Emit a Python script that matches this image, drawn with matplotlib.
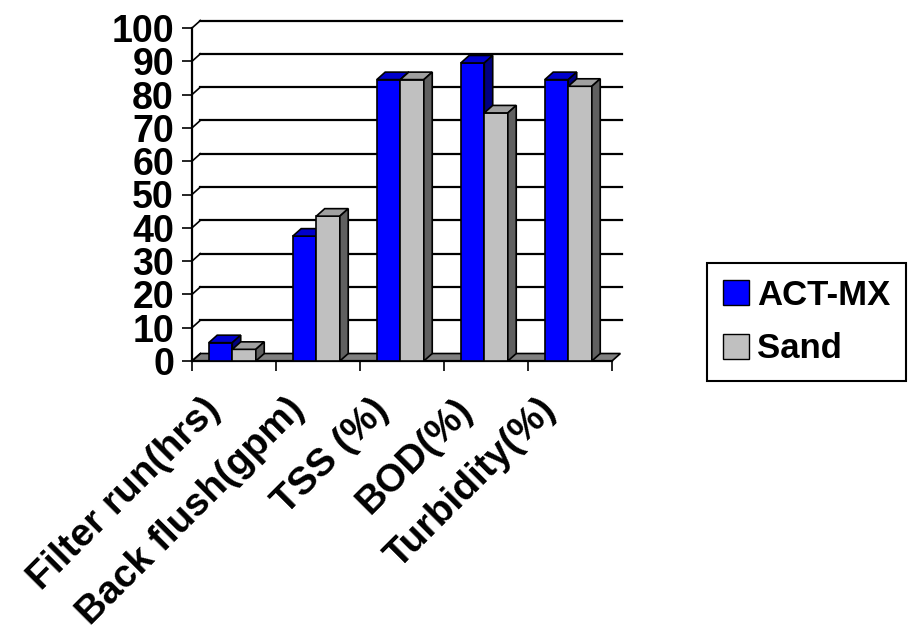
import numpy as np
import matplotlib.pyplot as plt
from matplotlib.patches import Polygon, Patch

categories = ["Filter run(hrs)", "Back flush(gpm)", "TSS (%)", "BOD(%)", "Turbidity(%)"]
act_mx = [5.5, 37.5, 84.5, 89.5, 84.5]
sand = [3.5, 43.5, 84.5, 74.5, 82.5]
yticks = np.arange(0, 101, 10)

plt.rcParams['font.family'] = ['Liberation Sans', 'DejaVu Sans']
plt.rcParams['font.weight'] = 'bold'

fig = plt.figure(figsize=(9.18, 6.37), dpi=100)
ax = fig.add_axes([192 / 918, 1 - 361 / 637, 420 / 918, 333 / 637])
n = len(categories)
ax.set_xlim(0, n)
ax.set_ylim(0, 100)

# depth of the fake 3d look, in data units
dx, dy = 0.1, 2.25

# floor
ax.add_patch(Polygon([(0, 0), (n, 0), (n + dx, dy), (dx, dy)], closed=True,
                     fc='#808080', ec='black', lw=1.2, clip_on=False, zorder=1))

# back wall gridlines and side wall diagonals
for y in yticks[1:]:
    ax.plot([dx, n + dx * 1.2], [y + dy, y + dy], color='black', lw=1.6, clip_on=False, zorder=1)
for y in yticks:
    ax.plot([0, dx], [y, y + dy], color='black', lw=1.2, clip_on=False, zorder=1)


def bar3d(x, h, w, front, top, side):
    b = ax.bar(x, h, w, align='edge', color=front, edgecolor='black', lw=1.2, zorder=3)
    r = b[0]
    x0, x1, y1 = r.get_x(), r.get_x() + r.get_width(), r.get_height()
    ax.add_patch(Polygon([(x0, y1), (x1, y1), (x1 + dx, y1 + dy), (x0 + dx, y1 + dy)],
                         fc=top, ec='black', lw=1.2, zorder=3, clip_on=False))
    ax.add_patch(Polygon([(x1, 0), (x1 + dx, dy), (x1 + dx, y1 + dy), (x1, y1)],
                         fc=side, ec='black', lw=1.2, zorder=3, clip_on=False))


w = 0.28
for i in range(n):
    bar3d(i + 0.2, act_mx[i], w, '#0000FF', '#0000CC', '#000080')
    bar3d(i + 0.2 + w, sand[i], w, '#C0C0C0', '#A0A0A0', '#606060')

for s in ['top', 'right']:
    ax.spines[s].set_visible(False)
for s in ['left', 'bottom']:
    ax.spines[s].set_linewidth(1.6)
    ax.spines[s].set_zorder(2)

ax.set_xticks(np.arange(n + 1))
ax.set_xticklabels([])
ax.set_xticks(np.arange(n) + 0.42, minor=True)
ax.set_xticklabels(categories, minor=True, rotation=45, ha='right', va='top', fontsize=28, fontweight='bold')
ax.tick_params(axis='x', which='major', length=7, width=1.2, direction='out')
ax.tick_params(axis='x', which='minor', length=0, pad=22)

ax.set_yticks(yticks)
ax.set_yticklabels([str(v) for v in yticks], fontsize=27, fontweight='bold')
ax.tick_params(axis='y', length=7, width=1.2, pad=6)

handles = [Patch(fc='#0000FF', ec='black', label='ACT-MX'),
           Patch(fc='#C0C0C0', ec='black', label='Sand')]
leg = fig.legend(handles=handles, loc='upper left', bbox_to_anchor=(707 / 918, 1 - 263 / 637),
                 prop={'size': 25, 'weight': 'bold'}, frameon=True, fancybox=False,
                 edgecolor='black', framealpha=1, borderaxespad=0, handlelength=0.75,
                 handleheight=0.75, handletextpad=0.25, labelspacing=0.6, borderpad=0.45)
leg.get_frame().set_linewidth(1.5)

fig.savefig('out.png', dpi=100)
